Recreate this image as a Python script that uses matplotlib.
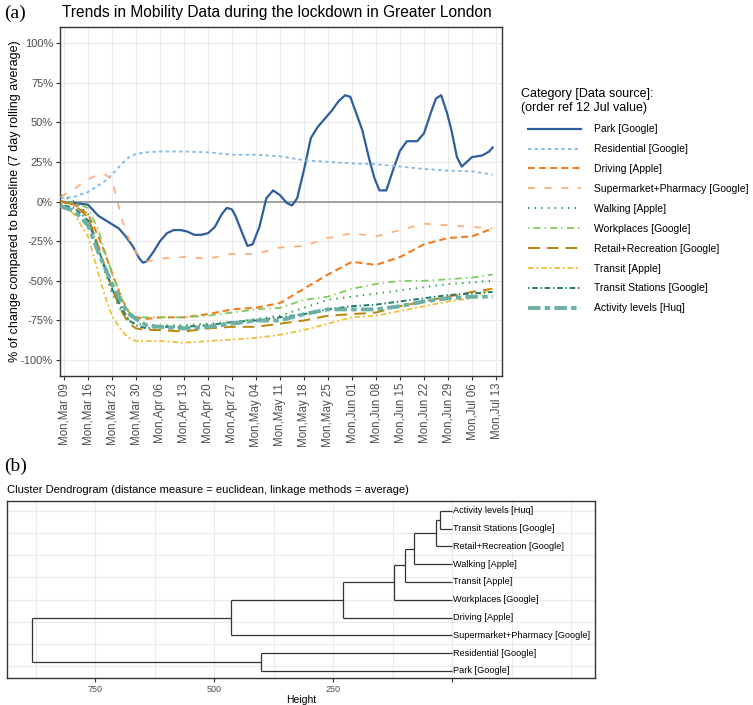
import numpy as np
import matplotlib
matplotlib.use('Agg')
import matplotlib.pyplot as plt
import matplotlib.dates as mdates
import pandas as pd

plt.rcParams['font.family'] = ['Liberation Sans', 'DejaVu Sans']
plt.rcParams['lines.scale_dashes'] = False

# ---------------- data (a) ----------------
start = pd.Timestamp('2020-03-09')
grid_days = [-1, 3, 7, 10, 12, 14, 17, 19, 21, 24, 28, 35, 42, 49, 56, 63, 70, 77, 84, 91, 98, 105, 112, 119, 125]

park_days = [-1, 3, 7, 10, 13, 16, 18, 20, 22, 23, 24, 26, 28, 30, 32, 34, 36, 38, 40, 42, 44, 46, 47.5, 49, 50, 52,
             53.5, 55, 57, 59, 61, 63, 65, 66.5, 68, 70, 72, 74, 76, 78, 80, 82, 83.5, 85, 87, 89, 90.5, 92, 94, 96,
             98, 100, 103, 105, 107, 108.5, 110, 111.7, 113, 114.6, 116, 117.5, 119, 122, 124, 125]
park_vals = [0, -1, -2, -9, -13, -17, -22, -28, -36, -38.5, -38, -32, -25, -20, -18, -18, -19, -21, -21, -20, -16, -8,
             -4, -5, -9, -20, -28, -27, -16, 2, 7, 4, -1, -2.5, 2, 20, 40, 47, 52, 57, 63, 67, 66, 57, 45, 27, 15, 7, 7,
             20, 32, 38, 38, 43, 56, 65, 67, 56, 45, 28, 22, 25, 28, 29, 31.5, 34]

residential = [2, 3, 6, 10, 13, 17, 24, 28, 30, 31, 31.5, 31.5, 31, 29.5, 29.5, 28.5, 26, 25, 24, 23.5, 22, 20.5, 19.5, 19, 17]
driving = [0, -2, -8, -22, -33, -45, -62, -70, -73, -74, -73, -73, -71, -68, -67, -64, -55, -46, -38, -40, -35, -27, -23, -22, -17]
supermarket = [3, 8, 14, 17, 17, 14, -12, -24, -32, -38, -36, -35, -36, -33, -33, -29, -28, -23, -20, -22, -18, -14, -15, -16, -17]
walking = [4, 0, -8, -30, -45, -58, -70, -75, -77, -78, -78, -78, -77, -76, -74, -72, -67, -62, -60, -58, -56, -54, -52, -51, -50]
workplaces = [0, -1, -4, -18, -32, -45, -62, -70, -73, -73, -73, -73, -72, -70, -68, -67, -62, -60, -55, -52, -50, -50, -49, -48, -46]
retail = [0, -2, -10, -28, -42, -55, -70, -77, -80, -81, -81, -82, -80, -79, -79, -77, -75, -72, -71, -70, -66, -63, -60, -57, -55]
transit = [-2, -8, -22, -45, -60, -72, -82, -86, -88, -88, -88, -89, -88, -87, -86, -84, -81, -77, -73, -72, -69, -66, -63, -61, -55]
transit_stations = [-2, -4, -12, -30, -42, -55, -68, -75, -78, -80, -79, -79, -78, -76, -75, -73, -71, -68, -66, -65, -63, -61, -59, -58, -57]
activity = [-3, -6, -15, -32, -42, -52, -65, -71, -74, -78, -79, -80, -79, -77, -75, -75, -71, -68, -68, -68, -66, -63, -61, -60, -60]

labels = ["Park [Google]", "Residential [Google]", "Driving [Apple]", "Supermarket+Pharmacy [Google]",
          "Walking [Apple]", "Workplaces [Google]", "Retail+Recreation [Google]", "Transit [Apple]",
          "Transit Stations [Google]", "Activity levels [Huq]"]
colors = ["#2E5E9E", "#7FB8E8", "#F47C20", "#FDB07A", "#2E9E3E", "#7CCB5E", "#B8860B", "#F2C037", "#1F7A6B", "#6BAFA5"]
dash_styles = [None, (2.4, 2.4), (5, 3), (5, 7), (1, 3.8), (1, 3, 5, 3), (8.5, 5), (4, 2, 1.5, 2), (1, 2, 4, 2), (9, 3, 4, 3)]
widths = [1.6, 1.3, 1.5, 1.3, 1.4, 1.3, 1.4, 1.3, 1.4, 2.8]

# ---------------- data (b) ----------------
leaves = ["Park [Google]", "Residential [Google]", "Supermarket+Pharmacy [Google]", "Driving [Apple]",
          "Workplaces [Google]", "Transit [Apple]", "Walking [Apple]", "Retail+Recreation [Google]",
          "Transit Stations [Google]", "Activity levels [Huq]"]
# merges: (child1, child2, height); children are leaf names or merge indices
merges = [("Activity levels [Huq]", "Transit Stations [Google]", 25),
          (0, "Retail+Recreation [Google]", 33),
          (1, "Walking [Apple]", 80),
          (2, "Transit [Apple]", 99),
          (3, "Workplaces [Google]", 122),
          (4, "Driving [Apple]", 229),
          (5, "Supermarket+Pharmacy [Google]", 464),
          ("Residential [Google]", "Park [Google]", 401),
          (6, 7, 882)]

W, H = 753, 705
fig = plt.figure(figsize=(W / 100, H / 100), dpi=100)

def fx(px):
    return px / W

def fy(py):
    return 1 - py / H

# ---------------- panel (a) ----------------
ax = fig.add_axes([fx(60), fy(376), fx(502) - fx(60), fy(27) - fy(376)])
grid_dates = start + pd.to_timedelta(grid_days, unit='D')
park_dates = start + pd.to_timedelta(park_days, unit='D')
all_vals = [park_vals, residential, driving, supermarket, walking, workplaces, retail, transit, transit_stations, activity]
ax.axhline(0, color='#9A9A9A', lw=1.3, zorder=1)
handles = []
for i, (lab, vals) in enumerate(zip(labels, all_vals)):
    d = park_dates if i == 0 else grid_dates
    kw = dict(color=colors[i], lw=widths[i], label=lab, zorder=2 + i)
    if dash_styles[i] is not None:
        kw['dashes'] = dash_styles[i]
    ln, = ax.plot(d, vals, **kw)
    handles.append(ln)

ax.set_ylim(-110, 110)
ax.set_xlim(start + pd.Timedelta(days=-1.17), start + pd.Timedelta(days=127.75))
ax.set_yticks([-100, -75, -50, -25, 0, 25, 50, 75, 100])
ax.set_yticklabels([f"{v}%" for v in [-100, -75, -50, -25, 0, 25, 50, 75, 100]])
ax.xaxis.set_major_locator(mdates.WeekdayLocator(byweekday=mdates.MO))
ax.xaxis.set_major_formatter(mdates.DateFormatter('%a,%b %d'))
plt.setp(ax.get_xticklabels(), rotation=90, fontsize=8.3, color='#4D4D4D')
plt.setp(ax.get_yticklabels(), fontsize=8, color='#4D4D4D')
ax.tick_params(axis='both', length=3, width=0.8, color='#333333', pad=2)
ax.grid(True, color='#EBEBEB', lw=0.8, zorder=0)
ax.set_axisbelow(True)
for s in ax.spines.values():
    s.set_color('#333333')
    s.set_linewidth(1.0)
ax.set_ylabel("% of change compared to baseline (7 day rolling average)", fontsize=9)
ax.yaxis.set_label_coords((21 - 60) / 442, 0.5)
fig.text(fx(62), fy(13), "Trends in Mobility Data during the lockdown in Greater London",
         fontsize=11.2, va='center', ha='left')
fig.text(fx(4), fy(13), "(a)", fontsize=14, va='center', ha='left', family=['Liberation Serif', 'DejaVu Serif'])

fig.text(fx(521), fy(101), "Category [Data source]:\n(order ref 12 Jul value)", fontsize=9,
         va='center', ha='left', linespacing=1.15)
leg = fig.legend(handles=handles, loc='upper left', bbox_to_anchor=(fx(521), fy(117)),
                 fontsize=7.5, frameon=False, handlelength=5.1, handletextpad=1.25, labelspacing=0.95,
                 borderpad=0.2)

# ---------------- panel (b) ----------------
bx = fig.add_axes([fx(7), fy(678), fx(595) - fx(7), fy(501) - fy(678)])
pos = {name: i + 1 for i, name in enumerate(leaves)}
hgt = {name: 0 for name in leaves}

def key(c):
    return ('m', c) if isinstance(c, int) else c

for mi, (c1, c2, h) in enumerate(merges):
    k1, k2 = key(c1), key(c2)
    y1, y2 = pos[k1], pos[k2]
    bx.plot([hgt[k1], h], [y1, y1], color='#333333', lw=0.9, solid_capstyle='butt')
    bx.plot([hgt[k2], h], [y2, y2], color='#333333', lw=0.9, solid_capstyle='butt')
    bx.plot([h, h], [y1, y2], color='#333333', lw=0.9, solid_capstyle='butt')
    pos[('m', mi)] = (y1 + y2) / 2
    hgt[('m', mi)] = h

for name in leaves:
    bx.text(-2, pos[name], name, fontsize=6.6, va='center', ha='left')

bx.set_xlim(935, -300)
bx.set_ylim(0.6, 10.55)
bx.set_yticks([])
bx.set_xticks([750, 500, 250, 0])
bx.set_xticklabels(['750', '500', '250', ''])
bx.tick_params(axis='x', labelsize=6.5, labelcolor='#4D4D4D', length=3, width=0.8, color='#333333', pad=2)
for gx in np.arange(-250, 1000, 125):
    bx.axvline(gx, color='#EBEBEB', lw=0.8, zorder=0)
for gy in np.arange(1.25, 10.01, 1.25):
    bx.axhline(gy, color='#EBEBEB', lw=0.8, zorder=0)
for s in bx.spines.values():
    s.set_color('#333333')
    s.set_linewidth(1.0)
bx.set_xlabel("Height", fontsize=7.5, labelpad=1)
fig.text(fx(7), fy(490), "Cluster Dendrogram (distance measure = euclidean, linkage methods = average)",
         fontsize=8, va='center', ha='left')
fig.text(fx(4), fy(466), "(b)", fontsize=14, va='center', ha='left', family=['Liberation Serif', 'DejaVu Serif'])

fig.savefig('out.png', dpi=100)
